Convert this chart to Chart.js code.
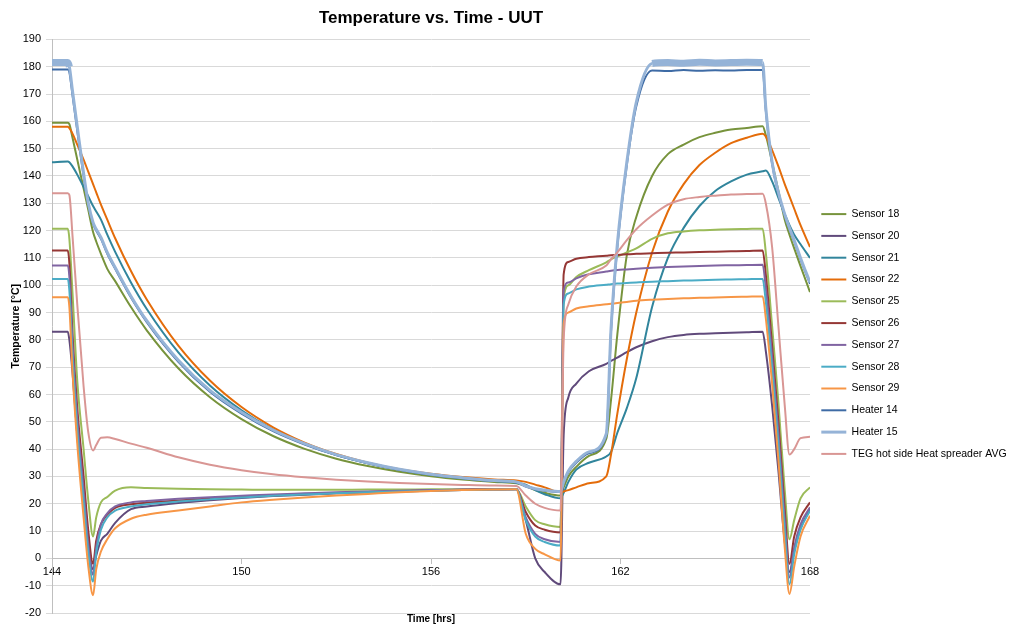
<!DOCTYPE html>
<html>
<head>
<meta charset="utf-8">
<script src="https://cdn.jsdelivr.net/npm/chart.js@4.4.1/dist/chart.umd.min.js"></script>
<style>
    html, body { margin: 0; padding: 0; background: #fff; }
    #wrap { width: 1009px; height: 625px; }
</style>
</head>
<body>
<div id="wrap"><canvas id="tempChart"></canvas></div>
<script>
// time axis [hrs]
const hours = [144, 144.5, 144.55, 144.65, 144.8, 145, 145.15, 145.3, 145.4, 145.55,
    145.75, 146, 146.5, 147, 148, 149, 150, 151, 152, 153,
    154, 155, 156, 157, 158, 158.7, 159, 159.3, 159.6, 160.1,
    160.2, 160.35, 160.6, 161, 161.55, 161.7, 161.9, 162.2, 162.5, 163,
    163.5, 164, 164.5, 165, 165.5, 166, 166.5, 166.6, 166.8, 167,
    167.2, 167.35, 167.5, 167.7, 168];

const sensor18 = [159.5, 159.5, 159, 154, 146, 135.5, 127.5, 119.5, 116, 111.5,
    106, 101.5, 92, 83.5, 69.6, 59, 51, 44.8, 40.1, 36.5,
    33.8, 31.7, 30.1, 28.9, 28, 27.5, 26.5, 25, 24, 23,
    26, 30, 33.5, 37.5, 43.8, 58, 82, 111, 125, 140,
    148, 151.5, 154.2, 155.8, 157, 157.6, 158.2, 155, 145, 134.5,
    124, 118.5, 113.5, 107, 97.5];

const sensor20 = [83, 83, 80, 68, 45, 22, 5, -4, 1, 6.5,
    9, 13, 18, 19, 20.3, 21.3, 22.1, 22.8, 23.3, 23.8,
    24.2, 24.5, 24.8, 25, 25.2, 25.2, 14, 0, -5, -9.5,
    45, 59, 64, 68.5, 71.2, 72.3, 73.5, 75.5, 77.3, 79.5,
    81, 81.8, 82.2, 82.4, 82.6, 82.8, 83, 76, 56, 32,
    6, -5, 3, 11, 18];

const sensor21 = [145, 145.3, 145, 143.5, 140.5, 136, 132.5, 129, 127, 124,
    118.5, 112.2, 101, 91.3, 75.4, 63.3, 54.2, 47.2, 41.9, 37.8,
    34.8, 32.4, 30.6, 29.3, 28.3, 27.7, 27, 25, 23.5, 22,
    24, 28, 32.5, 35, 37.3, 39, 46, 55, 66, 92,
    110, 121, 129, 134.5, 138, 140.5, 141.7, 142, 138, 132,
    126, 122, 118.5, 115, 110];

const sensor22 = [158, 158, 157.5, 155.5, 151.5, 146, 141.5, 137, 134, 129.5,
    124, 117.2, 105.2, 94.8, 77.9, 65.1, 55.4, 48, 42.4, 38.2,
    35, 32.6, 31, 29.8, 28.9, 28.5, 28, 27, 26, 24.2,
    24.5, 25, 26, 27.5, 30, 38, 53, 73, 90, 112,
    127, 137, 144, 148.5, 152, 154, 155.5, 154.5, 149.5, 143.5,
    137, 132.5, 128, 122, 114];

const sensor25 = [120.7, 120.7, 117, 97, 65, 40, 21, 8, 15, 20.5,
    22.5, 24.8, 26, 25.8, 25.5, 25.3, 25.2, 25.1, 25.1, 25.1,
    25.2, 25.2, 25.3, 25.3, 25.4, 25.4, 19, 14, 12.5, 11.5,
    95, 100, 103, 105.5, 108.4, 109.5, 110.5, 112, 113.5, 117,
    119, 119.7, 120.1, 120.3, 120.5, 120.6, 120.7, 112, 85, 57,
    25, 7, 14, 22, 26];

const sensor26 = [112.7, 112.7, 108, 82, 55, 30, 10, -2, 6.5, 12.5,
    16, 18.5, 19.8, 20.4, 21.2, 21.9, 22.5, 23, 23.5, 23.9,
    24.3, 24.6, 24.9, 25.1, 25.3, 25.4, 17, 12, 10.5, 9.5,
    104, 108.5, 109.7, 110.3, 110.8, 111, 111.1, 111.3, 111.5, 111.7,
    111.9, 112, 112.2, 112.3, 112.4, 112.5, 112.7, 104, 78, 50,
    18, -2, 8, 15, 20.5];

const sensor27 = [107.2, 107.2, 103, 78, 51, 25, 5, -6, 4, 12.5,
    16.5, 19, 20.5, 21, 21.8, 22.4, 22.9, 23.4, 23.8, 24.2,
    24.5, 24.8, 25, 25.2, 25.3, 25.4, 15, 9, 7, 6,
    98, 101, 102.5, 104, 105, 105.3, 105.6, 105.8, 106, 106.4,
    106.7, 106.9, 107, 107.2, 107.3, 107.4, 107.5, 99, 74, 46,
    14, -7, 4, 12.5, 18.7];

const sensor28 = [102.3, 102.3, 98, 74, 47, 21, 2, -8.5, 2, 10.5,
    15, 17.5, 19, 19.8, 20.8, 21.6, 22.3, 22.9, 23.4, 23.8,
    24.2, 24.5, 24.8, 25, 25.2, 25.3, 14, 8, 6, 4.7,
    93, 97, 98.5, 99.5, 100.2, 100.4, 100.6, 100.8, 101, 101.3,
    101.5, 101.7, 101.8, 102, 102.1, 102.2, 102.3, 94, 70, 42,
    10, -9.5, 1.5, 10.5, 17.5];

const sensor29 = [95.6, 95.6, 92, 68, 42, 15, -3, -13.5, -4, 2.5,
    7, 11, 14.5, 16, 17.5, 19, 20.5, 21.5, 22.3, 23,
    23.6, 24.2, 24.7, 25, 25.2, 25.3, 9, 3.5, 1.5, -0.8,
    86, 90, 91.5, 92.3, 93, 93.2, 93.5, 93.9, 94.3, 94.7,
    95, 95.2, 95.4, 95.5, 95.7, 95.8, 95.9, 88, 64, 36,
    4, -13, -3, 8, 15.6];

const heater14 = [179, 179, 178, 169.5, 156.5, 140, 129.5, 122.5, 120, 117,
    111.5, 106, 95.5, 86.5, 72, 61, 53, 46.6, 41.7, 37.8,
    34.8, 32.4, 30.6, 29.3, 28.3, 27.8, 26.3, 25.3, 24.8, 24.3,
    27.5, 31.5, 35, 38.5, 45, 83, 114, 144, 165.5, 178.6,
    178.4, 178.8, 178.5, 178.7, 178.6, 178.8, 178.8, 164, 144.5, 133.5,
    125.5, 120.5, 116, 109.5, 100.5];

const heater15 = [181.5, 181.5, 180, 171, 158, 141, 130, 123, 120.5, 117.5,
    112, 106.5, 96, 87, 72.5, 61.5, 53.5, 47, 42, 38,
    35, 32.6, 30.8, 29.5, 28.5, 28, 26.5, 25.5, 25, 24.5,
    28, 32, 35.5, 39, 45.6, 84, 115, 145, 167, 181.2,
    181.5, 181.3, 181.6, 181.4, 181.5, 181.6, 181.5, 165, 145, 134,
    126, 121, 116.5, 110, 101];

const tegAvg = [133.7, 133.7, 133, 118, 93, 63, 46, 39.5, 41.5, 44.2,
    44.3, 43.7, 42, 40.5, 37, 34.3, 32.3, 30.8, 29.7, 28.8,
    28.1, 27.6, 27.2, 26.9, 26.7, 26.5, 23, 20, 18.5, 17.5,
    80, 93, 99.5, 104, 107.2, 109.5, 112, 116.5, 120.5, 125.5,
    129.5, 131.5, 132.3, 132.8, 133.2, 133.4, 133.5, 130, 114, 85,
    56, 38, 40, 44, 44.5];

const seriesNames = ['Sensor 18', 'Sensor 20', 'Sensor 21', 'Sensor 22', 'Sensor 25', 'Sensor 26',
    'Sensor 27', 'Sensor 28', 'Sensor 29', 'Heater 14', 'Heater 15', 'TEG hot side Heat spreader AVG'];
const seriesValues = [sensor18, sensor20, sensor21, sensor22, sensor25, sensor26,
    sensor27, sensor28, sensor29, heater14, heater15, tegAvg];
const seriesColors = ['#77933C', '#604A7B', '#31859C', '#E46C0A', '#9BBB59', '#953735',
    '#8064A2', '#4BACC6', '#F79646', '#3E6BA5', '#95B3D7', '#D99694'];

const datasets = seriesNames.map((name, i) => {
    const ds = {
        label: name,
        data: hours.map((h, j) => ({ x: h, y: seriesValues[i][j] })),
        borderColor: seriesColors[i],
        backgroundColor: seriesColors[i],
        borderWidth: name === 'Heater 15' ? 3 : 2,
        pointRadius: 0,
        cubicInterpolationMode: 'monotone',
        order: seriesNames.length - i,
    };
    if (name === 'Heater 15') {
        // noisy plateau band
        ds.segment = {
            borderWidth: ctx => (ctx.p0.parsed.y > 176 && ctx.p1.parsed.y > 176) ? 7 : 3
        };
    }
    return ds;
});

const font = 'Liberation Sans, Arial, sans-serif';

new Chart(document.getElementById('tempChart'), {
    type: 'line',
    data: { datasets },
    options: {
        responsive: true,
        maintainAspectRatio: false,
        animation: false,
        layout: { padding: 0 },
        plugins: {
            title: {
                display: true,
                text: 'Temperature vs. Time - UUT',
                fullSize: false,
                color: '#000',
                font: { family: font, size: 17, weight: 'bold' },
                padding: { top: 8, bottom: 11 }
            },
            subtitle: {
                display: true,
                text: 'Time [hrs]',
                position: 'bottom',
                fullSize: false,
                color: '#000',
                font: { family: font, size: 10, weight: 'bold' },
                padding: 0
            },
            legend: {
                position: 'right',
                maxWidth: 199,
                title: { display: true, text: ' ', font: { size: 10 }, padding: { top: 31, bottom: 0 } },
                labels: {
                    usePointStyle: true,
                    pointStyle: 'line',
                    pointStyleWidth: 25,
                    padding: 11.3,
                    color: '#000',
                    font: { family: font, size: 10.5 },
                    sort: (a, b) => a.datasetIndex - b.datasetIndex
                }
            },
            tooltip: { enabled: false }
        },
        scales: {
            x: {
                type: 'linear',
                position: { y: 0 },
                min: 144,
                max: 168,
                ticks: {
                    stepSize: 6,
                    color: '#000',
                    font: { family: font, size: 11 },
                    padding: 2
                },
                grid: { drawOnChartArea: false, drawTicks: true, tickLength: 5, color: '#bfbfbf' },
                border: { color: '#bfbfbf' }
            },
            y: {
                min: -20,
                max: 190,
                ticks: {
                    stepSize: 10,
                    color: '#000',
                    font: { family: font, size: 11 },
                    padding: 5
                },
                grid: { color: '#d9d9d9', tickLength: 6 },
                border: { color: '#bfbfbf' },
                title: {
                    display: true,
                    text: 'Temperature [°C]',
                    color: '#000',
                    font: { family: font, size: 10.5, weight: 'bold' },
                    padding: { top: 10, bottom: 0 }
                },
                afterFit: (scale) => { scale.width = 52; }
            }
        }
    }
});
</script>
</body>
</html>
